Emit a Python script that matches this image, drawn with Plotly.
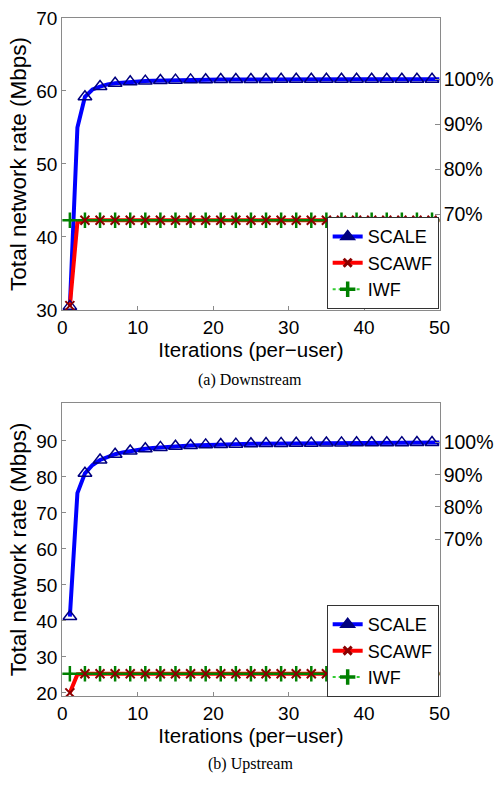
import plotly.graph_objects as go

iterations = list(range(1, 51))

scale_down = [30.5, 55.0, 59.2, 60.2, 60.6, 60.9, 61.05, 61.15, 61.25, 61.3,
              61.35, 61.4, 61.43, 61.46, 61.48, 61.5, 61.52, 61.53, 61.54, 61.55,
              61.56, 61.56, 61.57, 61.57, 61.58, 61.58, 61.58, 61.59, 61.59, 61.59,
              61.6, 61.6, 61.6, 61.6, 61.6, 61.6, 61.6, 61.6, 61.6, 61.6,
              61.6, 61.6, 61.6, 61.6, 61.6, 61.6, 61.6, 61.6, 61.6, 61.6]
scawf_down = [30.6, 42.0, 42.3, 42.3, 42.3, 42.3, 42.3, 42.3, 42.3, 42.3,
              42.3, 42.3, 42.3, 42.3, 42.3, 42.3, 42.3, 42.3, 42.3, 42.3,
              42.3, 42.3, 42.3, 42.3, 42.3, 42.3, 42.3, 42.3, 42.3, 42.3,
              42.3, 42.3, 42.3, 42.3, 42.3, 42.3, 42.3, 42.3, 42.3, 42.3,
              42.3, 42.3, 42.3, 42.3, 42.3, 42.3, 42.3, 42.3, 42.3, 42.3]
iwf_down = [42.3, 42.3, 42.3, 42.3, 42.3, 42.3, 42.3, 42.3, 42.3, 42.3,
            42.3, 42.3, 42.3, 42.3, 42.3, 42.3, 42.3, 42.3, 42.3, 42.3,
            42.3, 42.3, 42.3, 42.3, 42.3, 42.3, 42.3, 42.3, 42.3, 42.3,
            42.3, 42.3, 42.3, 42.3, 42.3, 42.3, 42.3, 42.3, 42.3, 42.3,
            42.3, 42.3, 42.3, 42.3, 42.3, 42.3, 42.3, 42.3, 42.3, 42.3]

scale_up = [41.2, 75.5, 81.0, 83.3, 84.7, 85.6, 86.3, 86.8, 87.2, 87.5,
            87.8, 88.0, 88.2, 88.35, 88.5, 88.6, 88.7, 88.8, 88.9, 88.95,
            89.0, 89.05, 89.1, 89.15, 89.2, 89.22, 89.25, 89.28, 89.3, 89.32,
            89.34, 89.36, 89.38, 89.4, 89.42, 89.43, 89.44, 89.45, 89.46, 89.47,
            89.48, 89.49, 89.5, 89.51, 89.52, 89.53, 89.54, 89.55, 89.56, 89.57]
scawf_up = [20.0, 25.1, 25.3, 25.3, 25.3, 25.3, 25.3, 25.3, 25.3, 25.3,
            25.3, 25.3, 25.3, 25.3, 25.3, 25.3, 25.3, 25.3, 25.3, 25.3,
            25.3, 25.3, 25.3, 25.3, 25.3, 25.3, 25.3, 25.3, 25.3, 25.3,
            25.3, 25.3, 25.3, 25.3, 25.3, 25.3, 25.3, 25.3, 25.3, 25.3,
            25.3, 25.3, 25.3, 25.3, 25.3, 25.3, 25.3, 25.3, 25.3, 25.3]
iwf_up = [25.3, 25.3, 25.3, 25.3, 25.3, 25.3, 25.3, 25.3, 25.3, 25.3,
          25.3, 25.3, 25.3, 25.3, 25.3, 25.3, 25.3, 25.3, 25.3, 25.3,
          25.3, 25.3, 25.3, 25.3, 25.3, 25.3, 25.3, 25.3, 25.3, 25.3,
          25.3, 25.3, 25.3, 25.3, 25.3, 25.3, 25.3, 25.3, 25.3, 25.3,
          25.3, 25.3, 25.3, 25.3, 25.3, 25.3, 25.3, 25.3, 25.3, 25.3]

series_names = ["SCALE", "SCAWF", "IWF"]
x_ticks = [0, 10, 20, 30, 40, 50]
y_ticks_down = [30, 40, 50, 60, 70]
y_ticks_up = [20, 30, 40, 50, 60, 70, 80, 90]
pct_ticks = [70, 80, 90, 100]
pct_labels = ["70%", "80%", "90%", "100%"]
captions = ["(a) Downstream", "(b) Upstream"]
x_title = "Iterations (per\u2212user)"
y_title = "Total network rate (Mbps)"

W, H = 503, 786
FONT = "Liberation Sans, Arial, sans-serif"
BLUE, NAVY = "#0000ff", "#00007f"
RED, DRED = "#ff0000", "#8b0000"
GREEN = "#008000"
LGREEN = "#33cc33"
FRAME = "#8a8a8a"

fig = go.Figure()

def add_panel(scale, scawf, iwf, xa, ya, pa, legend):
    xs = iterations
    xo = iterations[::2]
    ref = scale[-1]
    # invisible trace that carries the percentage axis (percent of final SCALE rate)
    fig.add_trace(go.Scatter(x=xs, y=[v / ref * 100 for v in scale], mode="lines",
                             line=dict(color="rgba(0,0,0,0)", width=0),
                             xaxis=xa, yaxis=pa, showlegend=False, hoverinfo="skip"))
    # lines
    fig.add_trace(go.Scatter(x=xs, y=scale, mode="lines", line=dict(color=BLUE, width=4),
                             xaxis=xa, yaxis=ya, showlegend=False, hoverinfo="skip"))
    fig.add_trace(go.Scatter(x=xs, y=iwf, mode="lines", line=dict(color=LGREEN, width=2, dash="dot"),
                             xaxis=xa, yaxis=ya, showlegend=False, hoverinfo="skip"))
    fig.add_trace(go.Scatter(x=xs, y=scawf, mode="lines", line=dict(color=RED, width=4),
                             xaxis=xa, yaxis=ya, showlegend=False, hoverinfo="skip"))
    # markers on odd iterations
    fig.add_trace(go.Scatter(x=xo, y=scale[::2], mode="markers",
                             marker=dict(symbol="triangle-up-open", size=12, color=NAVY, line=dict(width=1.5, color=NAVY)),
                             xaxis=xa, yaxis=ya, showlegend=False, hoverinfo="skip"))
    fig.add_trace(go.Scatter(x=xo, y=iwf[::2], mode="markers",
                             marker=dict(symbol="cross-thin", size=11, color=GREEN, line=dict(width=2.5, color=GREEN)),
                             xaxis=xa, yaxis=ya, showlegend=False, hoverinfo="skip"))
    fig.add_trace(go.Scatter(x=xo, y=scawf[::2], mode="markers",
                             marker=dict(symbol="x-thin", size=9, color=DRED, line=dict(width=2, color=DRED)),
                             xaxis=xa, yaxis=ya, showlegend=False, hoverinfo="skip"))
    # legend entries
    fig.add_trace(go.Scatter(x=[None], y=[None], mode="lines+markers", name=series_names[0],
                             line=dict(color=BLUE, width=4),
                             marker=dict(symbol="triangle-up", size=12, color=NAVY, line=dict(width=1.5, color=NAVY)),
                             xaxis=xa, yaxis=ya, legend=legend, legendrank=1))
    fig.add_trace(go.Scatter(x=[None], y=[None], mode="lines+markers", name=series_names[1],
                             line=dict(color=RED, width=4),
                             marker=dict(symbol="x-thin", size=8, color=DRED, line=dict(width=3, color=DRED)),
                             xaxis=xa, yaxis=ya, legend=legend, legendrank=2))
    fig.add_trace(go.Scatter(x=[None], y=[None], mode="lines+markers", name=series_names[2],
                             line=dict(color=LGREEN, width=2, dash="dot"),
                             marker=dict(symbol="cross-thin", size=11, color=GREEN, line=dict(width=3.5, color=GREEN)),
                             xaxis=xa, yaxis=ya, legend=legend, legendrank=3))

add_panel(scale_down, scawf_down, iwf_down, "x", "y", "y3", "legend")
add_panel(scale_up, scawf_up, iwf_up, "x2", "y2", "y4", "legend2")

xdom = [59 / W, 448 / W]
ydom1 = [1 - 308 / H, 1 - 8 / H]
ydom2 = [1 - 704 / H, 1 - 403 / H]

ref_down = scale_down[-1]
ref_up = scale_up[-1]
yr1 = [29.98, 70.02]
yr2 = [19.1, 100.6]

tickfont = dict(family=FONT, size=19, color="black")

def xaxis_cfg(anchor):
    return dict(domain=xdom, range=[-0.01, 50.01], tickvals=x_ticks, ticks="inside", ticklen=4,
                tickcolor=FRAME, showline=True, linecolor=FRAME, linewidth=1, mirror=True,
                showgrid=False, zeroline=False, anchor=anchor, tickfont=tickfont,
                ticklabeloverflow="allow",
                title=dict(text=x_title, font=dict(family=FONT, size=20.5, color="black"), standoff=0))

def yaxis_cfg(dom, rng, tv, anchor):
    return dict(domain=dom, range=rng, tickvals=tv, ticks="inside", ticklen=4,
                tickcolor=FRAME, showline=True, linecolor=FRAME, linewidth=1, mirror=True,
                showgrid=False, zeroline=False, anchor=anchor, tickfont=tickfont,
                ticklabeloverflow="allow",
                title=dict(text=y_title, font=dict(family=FONT, size=22.5, color="black"), standoff=3))

def pct_cfg(over, anchor, rng, ref):
    return dict(overlaying=over, anchor=anchor, side="right",
                range=[rng[0] / ref * 100, rng[1] / ref * 100],
                tickvals=pct_ticks, ticktext=pct_labels, ticks="inside", ticklen=5,
                tickcolor=FRAME, showline=False, showgrid=False, zeroline=False,
                tickfont=dict(family=FONT, size=19.5, color="black"), ticklabelstandoff=3,
                ticklabeloverflow="allow")

legend_common = dict(bgcolor="white", bordercolor="#333333", borderwidth=1,
                     font=dict(family=FONT, size=18, color="black"),
                     xref="paper", yref="paper", xanchor="right", yanchor="bottom",
                     itemwidth=30, tracegroupgap=0)

fig.update_layout(
    width=W, height=H, margin=dict(l=0, r=0, t=0, b=0),
    paper_bgcolor="white", plot_bgcolor="white",
    xaxis=xaxis_cfg("y"), yaxis=yaxis_cfg(ydom1, yr1, y_ticks_down, "x"),
    xaxis2=xaxis_cfg("y2"), yaxis2=yaxis_cfg(ydom2, yr2, y_ticks_up, "x2"),
    yaxis3=pct_cfg("y", "x", yr1, ref_down),
    yaxis4=pct_cfg("y2", "x2", yr2, ref_up),
    legend=dict(x=447 / W, y=1 - 307 / H, **legend_common),
    legend2=dict(x=447 / W, y=1 - 705 / H, **legend_common),
    annotations=[
        dict(text=captions[0], x=253 / W, y=1 - 380 / H, xref="paper", yref="paper",
             xanchor="center", yanchor="middle", showarrow=False,
             font=dict(family="Liberation Serif, Times New Roman, serif", size=16, color="black")),
        dict(text=captions[1], x=253 / W, y=1 - 774 / H, xref="paper", yref="paper",
             xanchor="center", yanchor="middle", showarrow=False,
             font=dict(family="Liberation Serif, Times New Roman, serif", size=16, color="black")),
    ],
    showlegend=True,
)

fig.write_html("out.html")
